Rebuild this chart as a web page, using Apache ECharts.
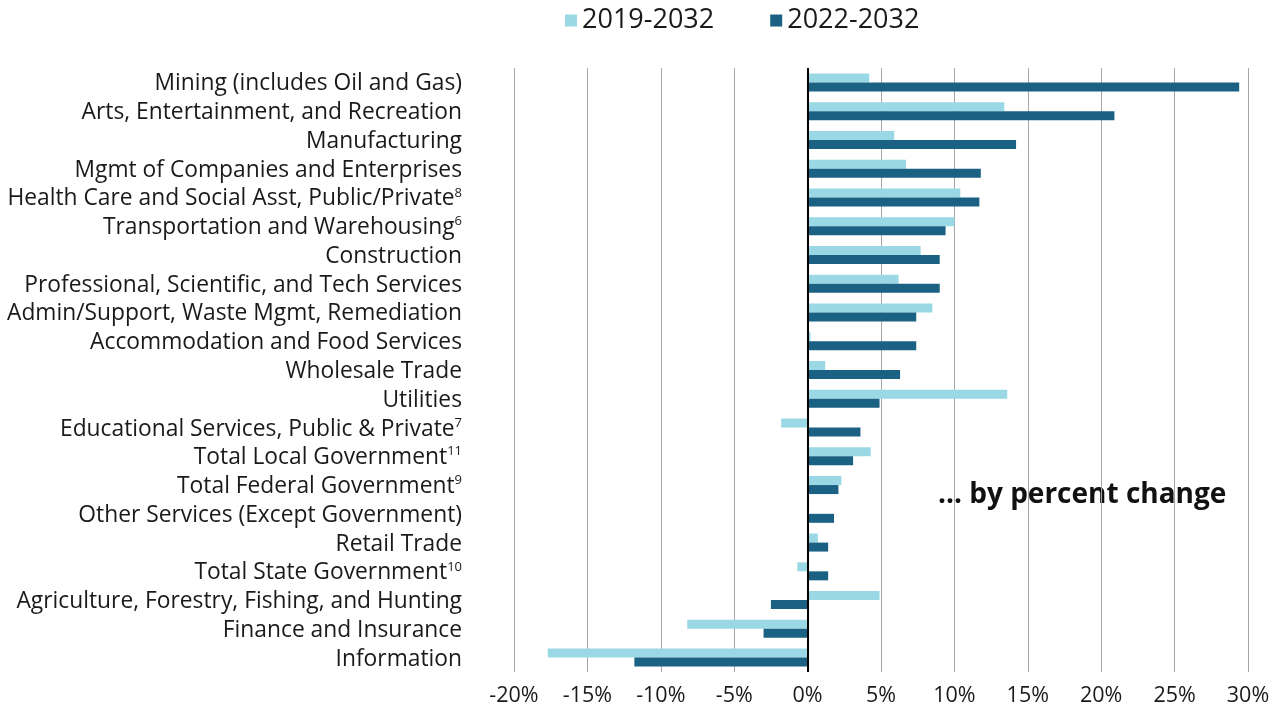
<!DOCTYPE html>
<html><head><meta charset="utf-8">
<script src="https://cdn.jsdelivr.net/npm/echarts@6/dist/echarts.min.js"></script>
<style>html,body{margin:0;padding:0;background:#fff}#c{width:1286px;height:708px}</style>
</head><body><div id="c"></div>
<script>
const categories = [
  "Mining (includes Oil and Gas)",
  "Arts, Entertainment, and Recreation",
  "Manufacturing",
  "Mgmt of Companies and Enterprises",
  "Health Care and Social Asst, Public/Private^8",
  "Transportation and Warehousing^6",
  "Construction",
  "Professional, Scientific, and Tech Services",
  "Admin/Support, Waste Mgmt, Remediation",
  "Accommodation and Food Services",
  "Wholesale Trade",
  "Utilities",
  "Educational Services, Public & Private^7",
  "Total Local Government^11",
  "Total Federal Government^9",
  "Other Services (Except Government)",
  "Retail Trade",
  "Total State Government^10",
  "Agriculture, Forestry, Fishing, and Hunting",
  "Finance and Insurance",
  "Information"
];
const series2019 = [4.2, 13.4, 5.9, 6.7, 10.4, 10.0, 7.7, 6.2, 8.5, 0.2, 1.2, 13.6, -1.8, 4.3, 2.3, 0.1, 0.7, -0.7, 4.9, -8.2, -17.7];
const series2022 = [29.4, 20.9, 14.2, 11.8, 11.7, 9.4, 9.0, 9.0, 7.4, 7.4, 6.3, 4.9, 3.6, 3.1, 2.1, 1.8, 1.4, 1.4, -2.5, -3.0, -11.8];
const seriesNames = ["2019-2032", "2022-2032"];
const xTicks = { min: -20, max: 30, interval: 5 };
const note = "... by percent change";

const FONT = "'Open Sans', 'Noto Sans', sans-serif";
const chart = echarts.init(document.getElementById('c'), null, {renderer: 'canvas'});
chart.setOption({
  animation: false,
  backgroundColor: '#fff',
  textStyle: { fontFamily: FONT },
  legend: {
    top: 2, left: 560,
    itemWidth: 12, itemHeight: 12, itemGap: 56,
    icon: 'rect',
    textStyle: { fontSize: 27, color: '#1a1a1a', fontFamily: FONT },
    data: seriesNames
  },
  grid: { left: 514, right: 38, top: 68, bottom: 36, containLabel: false },
  xAxis: {
    type: 'value', min: xTicks.min, max: xTicks.max, interval: xTicks.interval,
    axisLine: { show: false }, axisTick: { show: false },
    splitLine: { show: true, lineStyle: { color: '#a6a6a6', width: 1 } },
    axisLabel: { formatter: '{value}%', fontSize: 21.5, color: '#1a1a1a', margin: 13, fontFamily: FONT }
  },
  yAxis: {
    type: 'category', inverse: true, data: categories,
    axisLine: { show: false }, axisTick: { show: false },
    axisLabel: {
      margin: 52, color: '#1a1a1a', fontFamily: FONT,
      formatter: function (v) {
        const p = v.split('^');
        return p.length > 1 ? '{a|' + p[0] + '}{s|' + p[1] + '}' : '{a|' + p[0] + '}';
      },
      rich: {
        a: { fontSize: 22.8, color: '#1a1a1a', fontFamily: FONT, lineHeight: 28, padding: [3, 0, 0, 0] },
        s: { fontSize: 13, color: '#1a1a1a', fontFamily: FONT, verticalAlign: 'top', lineHeight: 22, padding: [3, 0, 0, 0] }
      }
    }
  },
  graphic: [{
    type: 'text', left: 938, top: 481,
    style: { text: note, font: "bold 28px 'Open Sans', sans-serif", fill: '#111' }
  }],
  series: [
    {
      name: seriesNames[0], type: 'bar', data: series2019, barWidth: 9, barGap: '0%',
      itemStyle: { color: '#9BD8E5' },
      markLine: {
        silent: true, symbol: 'none', label: { show: false },
        lineStyle: { color: '#000', width: 2, type: 'solid' },
        data: [{ xAxis: 0 }]
      }
    },
    {
      name: seriesNames[1], type: 'bar', data: series2022, barWidth: 9, barGap: '0%',
      itemStyle: { color: '#1B6183' }
    }
  ]
});
</script></body></html>
